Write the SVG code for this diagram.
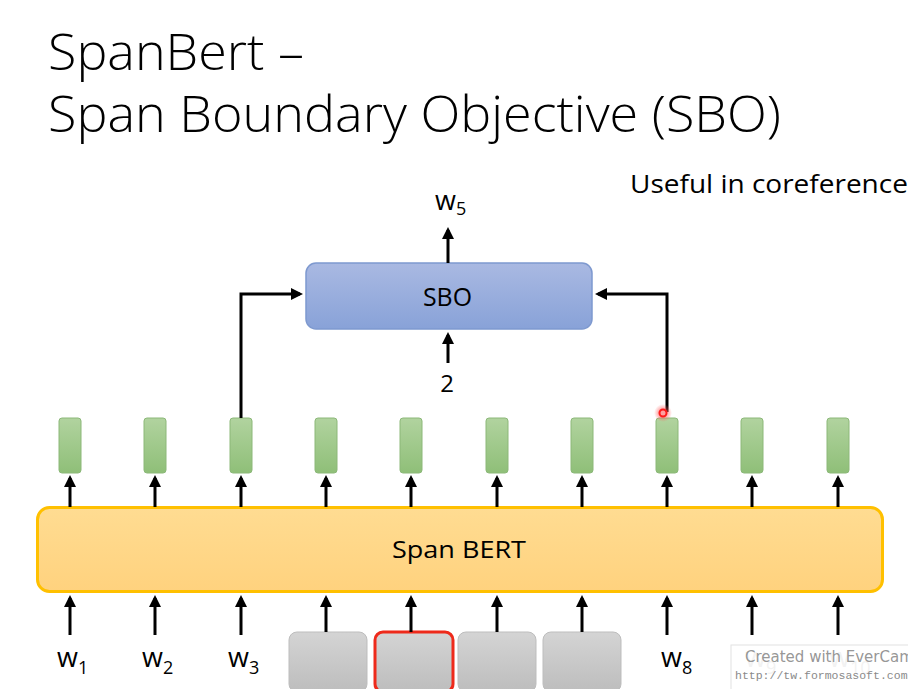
<svg xmlns="http://www.w3.org/2000/svg" width="908" height="689" viewBox="0 0 908 689">
<style>
  .t { font-family: "Open Sans", "Noto Sans", "Liberation Sans", sans-serif; fill: #000; }
  .title { font-size: 50px; font-weight: 300; }
  .lbl { font-size: 27px; }
  .sub { font-size: 18px; }
  .conn { stroke: #000; stroke-width: 3; fill: none; }
  .green { fill: url(#gGreen); stroke: #8cb879; stroke-width: 1; }
  .gray { fill: url(#gGray); stroke: #bdbdbd; stroke-width: 1; }
</style>
<defs>
  <linearGradient id="gGreen" x1="0" y1="0" x2="0" y2="1">
    <stop offset="0" stop-color="#b1d39f"/>
    <stop offset="1" stop-color="#8fbf78"/>
  </linearGradient>
  <linearGradient id="gBlue" x1="0" y1="0" x2="0" y2="1">
    <stop offset="0" stop-color="#a9b9e2"/>
    <stop offset="1" stop-color="#88a2d8"/>
  </linearGradient>
  <linearGradient id="gYellow" x1="0" y1="0" x2="0" y2="1">
    <stop offset="0" stop-color="#ffdc92"/>
    <stop offset="1" stop-color="#ffd27e"/>
  </linearGradient>
  <linearGradient id="gGray" x1="0" y1="0" x2="0" y2="1">
    <stop offset="0" stop-color="#d4d4d4"/>
    <stop offset="1" stop-color="#bdbdbd"/>
  </linearGradient>
  <radialGradient id="gGlow">
    <stop offset="0.4" stop-color="#ff6060" stop-opacity="0.6"/>
    <stop offset="1" stop-color="#ff6060" stop-opacity="0"/>
  </radialGradient>
  <marker id="ah" markerWidth="4" markerHeight="4" refX="3" refY="2" orient="auto" markerUnits="strokeWidth">
    <path d="M0,0 L4,2 L0,4 Z" fill="#000"/>
  </marker>
</defs>
<rect width="908" height="689" fill="#fff"/>

<g id="title">
  <text class="t title" x="48" y="70" textLength="256" lengthAdjust="spacingAndGlyphs">SpanBert –</text>
  <text class="t title" x="48" y="132" textLength="733" lengthAdjust="spacingAndGlyphs">Span Boundary Objective (SBO)</text>
</g>
<g id="note">
  <text class="t" x="630" y="193" font-size="25" textLength="290" lengthAdjust="spacingAndGlyphs">Useful in coreference?</text>
</g>

<g id="sbo">
  <rect x="306" y="263" width="286" height="66" rx="10" fill="url(#gBlue)" stroke="#7e99cf" stroke-width="1.5"/>
  <text class="t" x="423" y="306" font-size="25" textLength="49" lengthAdjust="spacingAndGlyphs">SBO</text>
</g>
<g id="w5">
  <text class="t lbl" x="435" y="210">w<tspan class="sub" dy="5">5</tspan></text>
</g>
<g id="two">
  <text class="t" x="447" y="392" font-size="24" text-anchor="middle">2</text>
</g>

<g id="spanbert">
  <rect x="37.5" y="507.5" width="845" height="84" rx="12" fill="url(#gYellow)" stroke="#ffc000" stroke-width="3"/>
  <text class="t" x="392" y="558" font-size="24" textLength="134" lengthAdjust="spacingAndGlyphs">Span BERT</text>
</g>

<g id="outputs">
  <rect class="green" x="59" y="418" width="22" height="55" rx="3"/>
  <rect class="green" x="144" y="418" width="22" height="55" rx="3"/>
  <rect class="green" x="230" y="418" width="22" height="55" rx="3"/>
  <rect class="green" x="315" y="418" width="22" height="55" rx="3"/>
  <rect class="green" x="400" y="418" width="22" height="55" rx="3"/>
  <rect class="green" x="486" y="418" width="22" height="55" rx="3"/>
  <rect class="green" x="571" y="418" width="22" height="55" rx="3"/>
  <rect class="green" x="656" y="418" width="22" height="55" rx="3"/>
  <rect class="green" x="741" y="418" width="22" height="55" rx="3"/>
  <rect class="green" x="827" y="418" width="22" height="55" rx="3"/>
</g>

<g id="masked">
  <rect class="gray" x="289" y="632" width="78" height="60" rx="8"/>
  <rect x="375" y="632" width="78" height="60" rx="8" fill="url(#gGray)" stroke="#ee2a1b" stroke-width="3"/>
  <rect class="gray" x="458" y="632" width="78" height="60" rx="8"/>
  <rect class="gray" x="543" y="632" width="78" height="60" rx="8"/>
</g>

<g id="inputs">
  <text class="t lbl" x="57" y="667">w<tspan class="sub" dy="7">1</tspan></text>
  <text class="t lbl" x="142" y="667">w<tspan class="sub" dy="7">2</tspan></text>
  <text class="t lbl" x="228" y="667">w<tspan class="sub" dy="7">3</tspan></text>
  <text class="t lbl" x="661" y="667">w<tspan class="sub" dy="7">8</tspan></text>
  <text class="t lbl" x="745" y="667" style="fill:#d2d2d2">w<tspan class="sub" dy="7">9</tspan></text>
  <text class="t lbl" x="829" y="667" style="fill:#d2d2d2">w<tspan class="sub" dy="7">10</tspan></text>
</g>

<g id="connectors">
  <line class="conn" x1="70" y1="507" x2="70" y2="478" marker-end="url(#ah)"/>
  <line class="conn" x1="155" y1="507" x2="155" y2="478" marker-end="url(#ah)"/>
  <line class="conn" x1="241" y1="507" x2="241" y2="478" marker-end="url(#ah)"/>
  <line class="conn" x1="326" y1="507" x2="326" y2="478" marker-end="url(#ah)"/>
  <line class="conn" x1="411" y1="507" x2="411" y2="478" marker-end="url(#ah)"/>
  <line class="conn" x1="497" y1="507" x2="497" y2="478" marker-end="url(#ah)"/>
  <line class="conn" x1="582" y1="507" x2="582" y2="478" marker-end="url(#ah)"/>
  <line class="conn" x1="667" y1="507" x2="667" y2="478" marker-end="url(#ah)"/>
  <line class="conn" x1="752" y1="507" x2="752" y2="478" marker-end="url(#ah)"/>
  <line class="conn" x1="838" y1="507" x2="838" y2="478" marker-end="url(#ah)"/>
  <line class="conn" x1="70" y1="635" x2="70" y2="598" marker-end="url(#ah)"/>
  <line class="conn" x1="155" y1="635" x2="155" y2="598" marker-end="url(#ah)"/>
  <line class="conn" x1="241" y1="635" x2="241" y2="598" marker-end="url(#ah)"/>
  <line class="conn" x1="326" y1="632" x2="326" y2="598" marker-end="url(#ah)"/>
  <line class="conn" x1="411" y1="632" x2="411" y2="598" marker-end="url(#ah)"/>
  <line class="conn" x1="497" y1="632" x2="497" y2="598" marker-end="url(#ah)"/>
  <line class="conn" x1="582" y1="632" x2="582" y2="598" marker-end="url(#ah)"/>
  <line class="conn" x1="667" y1="635" x2="667" y2="598" marker-end="url(#ah)"/>
  <line class="conn" x1="752" y1="635" x2="752" y2="598" marker-end="url(#ah)"/>
  <line class="conn" x1="838" y1="635" x2="838" y2="598" marker-end="url(#ah)"/>
  <polyline class="conn" points="241,418 241,294 300,294" marker-end="url(#ah)"/>
  <polyline class="conn" points="667,412 667,294 598,294" marker-end="url(#ah)"/>
  <line class="conn" x1="448" y1="263" x2="448" y2="230" marker-end="url(#ah)"/>
  <line class="conn" x1="448" y1="363" x2="448" y2="335" marker-end="url(#ah)"/>
</g>

<g id="cursor">
  <circle cx="663" cy="413" r="9" fill="url(#gGlow)"/>
  <circle cx="663" cy="413" r="3.5" fill="none" stroke="#ff1a1a" stroke-width="2"/>
</g>

<g id="watermark">
  <rect x="731" y="645" width="180" height="48" fill="#ffffff" fill-opacity="0.7" stroke="#e2e2e2" stroke-width="1"/>
  <text x="745" y="662" font-family="'DejaVu Sans', sans-serif" font-size="15" fill="#8a8a8a" fill-opacity="0.9">Created with EverCam</text>
  <text x="735" y="679" font-family="'Liberation Mono', monospace" font-size="11.5" fill="#8a8a8a">http://tw.formosasoft.com</text>
</g>
</svg>
